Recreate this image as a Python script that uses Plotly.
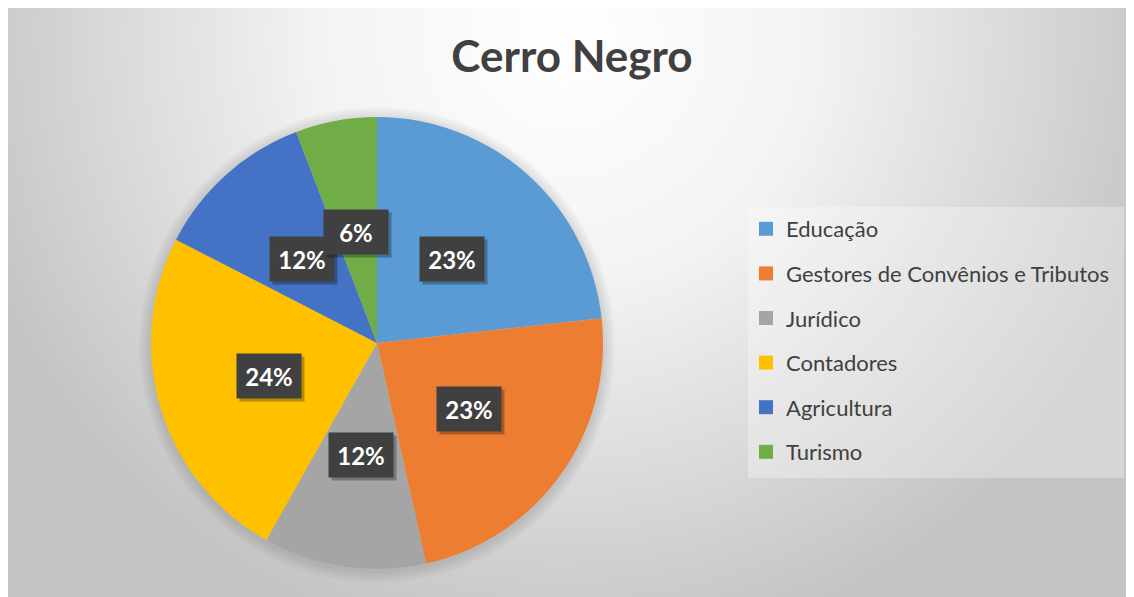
import base64
import math
import plotly.graph_objects as go

# ---- data ----
categories = ["Educação", "Gestores de Convênios e Tributos", "Jurídico",
              "Contadores", "Agricultura", "Turismo"]
values = [20, 20, 10, 21, 10, 5]
colors = ["#5B9BD5", "#ED7D31", "#A5A5A5", "#FFC000", "#4472C4", "#70AD47"]
title_text = "Cerro Negro"

OFF = 8  # page body margin
W, H = 1134 - OFF, 597 - OFF
FONT = "Lato"

# pie geometry (screen pixels)
CX, CY, R = 377, 343, 226


def px(x):
    return (x - OFF) / W


def py(y):
    return 1 - (y - OFF) / H


fig = go.Figure()

fig.add_trace(go.Pie(
    labels=categories, values=values, sort=False, direction="clockwise",
    rotation=0, marker=dict(colors=colors, line=dict(width=0)),
    textinfo="none", hoverinfo="label+percent", showlegend=False,
    domain=dict(x=[px(CX - R), px(CX + R)], y=[py(CY + R), py(CY - R)]),
))

# legend entries
for lab, col in zip(categories, colors):
    fig.add_trace(go.Scatter(
        x=[None], y=[None], mode="markers", name=lab, legendgroup=lab,
        marker=dict(symbol="square", size=14, color=col),
        showlegend=True, hoverinfo="skip",
    ))

# background radial gradient (image covers the chart area)
gw, gh = W, H
svg = (
    f"<svg xmlns='http://www.w3.org/2000/svg' width='{gw}' height='{gh}'>"
    "<defs><radialGradient id='g' cx='557' cy='27' r='620' gradientUnits='userSpaceOnUse'>"
    "<stop offset='0' stop-color='#ffffff'/>"
    "<stop offset='0.4' stop-color='#f3f3f3'/>"
    "<stop offset='0.75' stop-color='#d8d8d8'/>"
    "<stop offset='1' stop-color='#c4c4c4'/>"
    "</radialGradient></defs>"
    f"<rect width='{gw}' height='{gh}' fill='url(#g)'/></svg>"
)
src = "data:image/svg+xml;base64," + base64.b64encode(svg.encode()).decode()

shapes = []
# soft shadow around pie
for k in range(1, 7):
    r = R + k * 2
    shapes.append(dict(type="circle", xref="paper", yref="paper", layer="below",
                       x0=px(CX - r), x1=px(CX + r), y0=py(CY + r + 2), y1=py(CY - r + 2),
                       fillcolor="rgba(0,0,0,0.018)", line=dict(width=0)))
# legend box
shapes.append(dict(type="rect", xref="paper", yref="paper", layer="below",
                   x0=px(748), x1=px(1124), y0=py(478), y1=py(207),
                   fillcolor="rgba(255,255,255,0.3)", line=dict(width=0)))

# data labels (dark boxes) at half radius of each slice
annotations = []
total = sum(values)
cum = 0
for v in values:
    mid = (cum + v / 2) / total * 2 * math.pi
    cum += v
    x = CX + 0.5 * R * math.sin(mid)
    y = CY - 0.5 * R * math.cos(mid)
    txt = f"{round(v / total * 100)}%"
    # shadow box
    annotations.append(dict(x=px(x), y=py(y), xref="paper", yref="paper", text=" ",
                            xanchor="center", yanchor="middle",
                            showarrow=False, width=62, height=42, xshift=3, yshift=-3,
                            bgcolor="rgba(0,0,0,0.28)", font=dict(size=24)))
    annotations.append(dict(x=px(x), y=py(y), xref="paper", yref="paper", text=f"<b>{txt}</b>",
                            xanchor="center", yanchor="middle",
                            showarrow=False, width=62, height=42,
                            bgcolor="#404040", font=dict(color="white", size=24, family=FONT)))

fig.update_layout(
    width=W, height=H, margin=dict(l=0, r=0, t=0, b=0),
    paper_bgcolor="white", plot_bgcolor="rgba(0,0,0,0)",
    xaxis=dict(visible=False), yaxis=dict(visible=False),
    title=dict(text=f"<b>{title_text}</b>", x=px(572), y=py(57), xanchor="center", yanchor="middle",
               font=dict(family=FONT, size=44, color="#404040")),
    legend=dict(x=px(746), y=py(208), xanchor="left", yanchor="top",
                bgcolor="rgba(0,0,0,0)", tracegroupgap=13,
                font=dict(family=FONT, size=22, color="#404040")),
    images=[dict(source=src, xref="paper", yref="paper", x=0, y=1,
                 sizex=1, sizey=1, xanchor="left", yanchor="top",
                 sizing="stretch", layer="below")],
    shapes=shapes, annotations=annotations,
    font=dict(family=FONT),
)

fig.write_html("out.html")
